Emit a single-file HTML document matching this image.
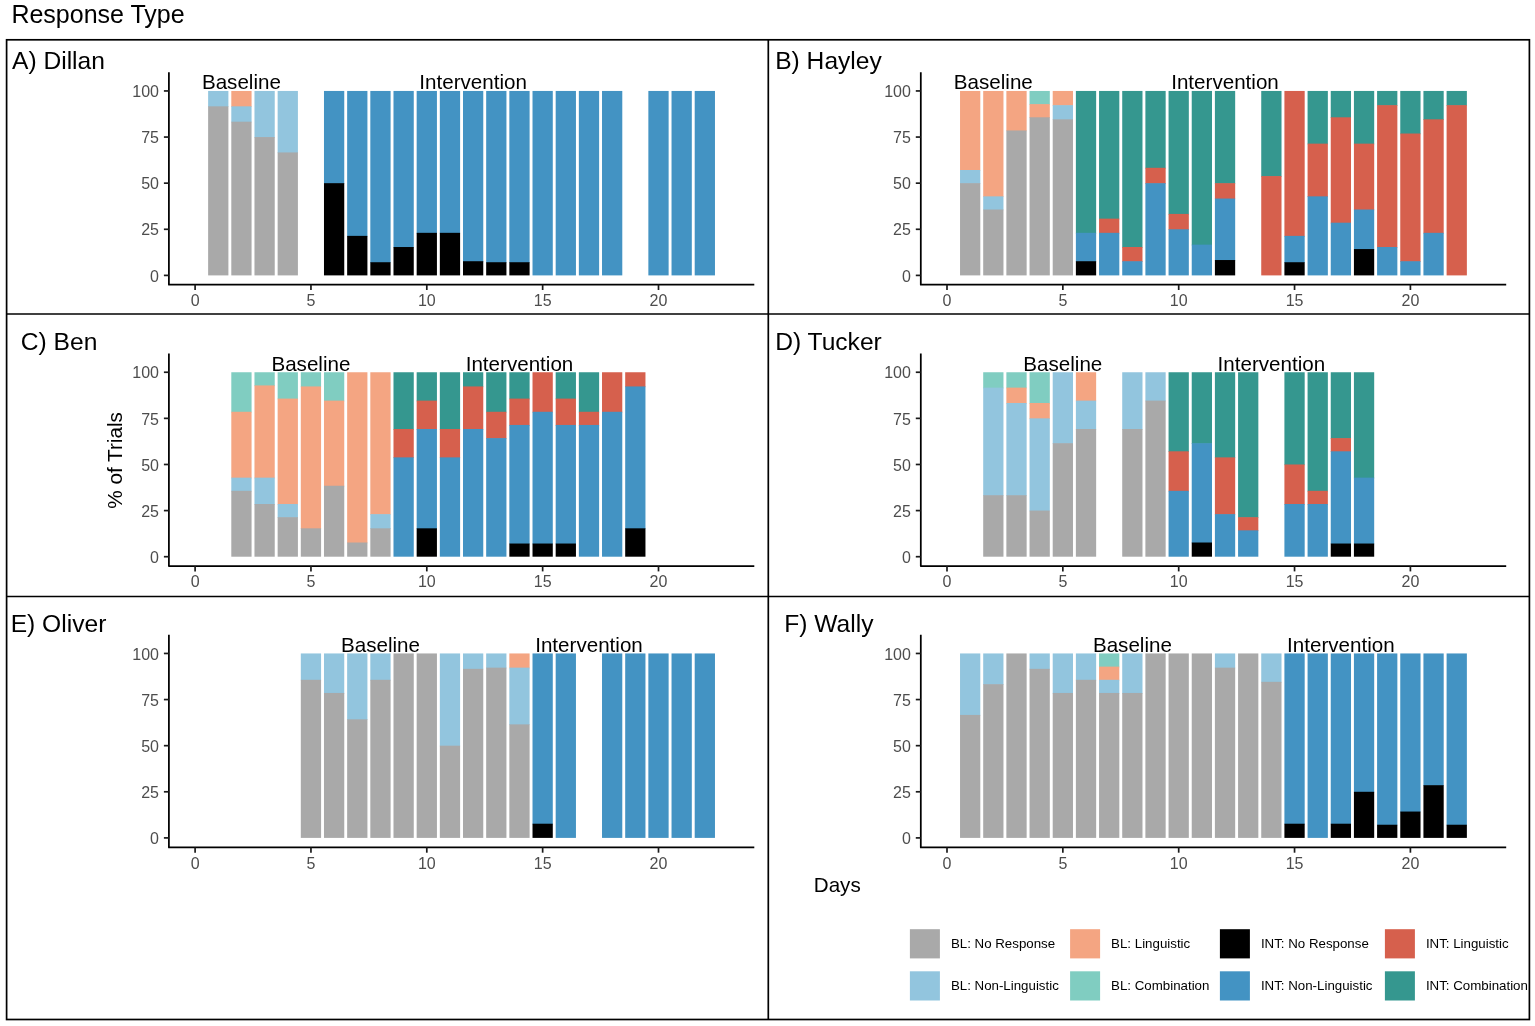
<!DOCTYPE html>
<html lang="en">
<head>
<meta charset="utf-8">
<title>Response Type</title>
<style>
html,body{margin:0;padding:0;background:#fff;}
body{width:1535px;height:1026px;overflow:hidden;font-family:"Liberation Sans",Arial,Helvetica,sans-serif;}
svg{display:block;}
</style>
</head>
<body>
<svg width="1535" height="1026" viewBox="0 0 1535 1026" font-family="'Liberation Sans', Arial, Helvetica, sans-serif">
<rect x="0" y="0" width="1535" height="1026" fill="#ffffff"/>
<text x="11.4" y="23.3" font-size="25" fill="#000">Response Type</text>
<g fill="none" stroke="#000" stroke-width="1.7">
<rect x="6.6" y="39.8" width="1522.8" height="979.7"/>
<line x1="768.3" y1="39.8" x2="768.3" y2="1019.5"/>
<line x1="6.6" y1="314.0" x2="1529.4" y2="314.0"/>
<line x1="6.6" y1="596.5" x2="1529.4" y2="596.5"/>
</g>
<g>
<text x="12.0" y="69.2" font-size="24.6" fill="#000">A) Dillan</text>
<g shape-rendering="auto">
<rect x="208.13" y="90.95" width="20.27" height="16.07" fill="#92C5DE"/>
<rect x="208.13" y="106.32" width="20.27" height="169.08" fill="#A9A9A9"/>
<rect x="231.30" y="90.95" width="20.27" height="16.07" fill="#F4A582"/>
<rect x="231.30" y="106.32" width="20.27" height="16.07" fill="#92C5DE"/>
<rect x="231.30" y="121.69" width="20.27" height="153.71" fill="#A9A9A9"/>
<rect x="254.47" y="90.95" width="20.27" height="46.81" fill="#92C5DE"/>
<rect x="254.47" y="137.06" width="20.27" height="138.34" fill="#A9A9A9"/>
<rect x="277.64" y="90.95" width="20.27" height="62.18" fill="#92C5DE"/>
<rect x="277.64" y="152.43" width="20.27" height="122.97" fill="#A9A9A9"/>
<rect x="323.98" y="90.95" width="20.27" height="92.92" fill="#4393C3"/>
<rect x="323.98" y="183.17" width="20.27" height="92.22" fill="#000000"/>
<rect x="347.15" y="90.95" width="20.27" height="145.62" fill="#4393C3"/>
<rect x="347.15" y="235.87" width="20.27" height="39.53" fill="#000000"/>
<rect x="370.32" y="90.95" width="20.27" height="171.97" fill="#4393C3"/>
<rect x="370.32" y="262.22" width="20.27" height="13.18" fill="#000000"/>
<rect x="393.49" y="90.95" width="20.27" height="156.77" fill="#4393C3"/>
<rect x="393.49" y="247.02" width="20.27" height="28.38" fill="#000000"/>
<rect x="416.66" y="90.95" width="20.27" height="142.58" fill="#4393C3"/>
<rect x="416.66" y="232.83" width="20.27" height="42.57" fill="#000000"/>
<rect x="439.83" y="90.95" width="20.27" height="142.58" fill="#4393C3"/>
<rect x="439.83" y="232.83" width="20.27" height="42.57" fill="#000000"/>
<rect x="463.00" y="90.95" width="20.27" height="170.96" fill="#4393C3"/>
<rect x="463.00" y="261.21" width="20.27" height="14.19" fill="#000000"/>
<rect x="486.17" y="90.95" width="20.27" height="171.97" fill="#4393C3"/>
<rect x="486.17" y="262.22" width="20.27" height="13.18" fill="#000000"/>
<rect x="509.34" y="90.95" width="20.27" height="171.97" fill="#4393C3"/>
<rect x="509.34" y="262.22" width="20.27" height="13.18" fill="#000000"/>
<rect x="532.51" y="90.95" width="20.27" height="184.45" fill="#4393C3"/>
<rect x="555.68" y="90.95" width="20.27" height="184.45" fill="#4393C3"/>
<rect x="578.85" y="90.95" width="20.27" height="184.45" fill="#4393C3"/>
<rect x="602.02" y="90.95" width="20.27" height="184.45" fill="#4393C3"/>
<rect x="648.36" y="90.95" width="20.27" height="184.45" fill="#4393C3"/>
<rect x="671.53" y="90.95" width="20.27" height="184.45" fill="#4393C3"/>
<rect x="694.70" y="90.95" width="20.27" height="184.45" fill="#4393C3"/>
</g>
<path d="M168.9 72.2 V284.7 H754.3" fill="none" stroke="#000" stroke-width="1.75" stroke-linejoin="round"/>
<g stroke="#1a1a1a" stroke-width="1.7">
<line x1="163.9" y1="275.40" x2="168.9" y2="275.40"/>
<line x1="163.9" y1="229.29" x2="168.9" y2="229.29"/>
<line x1="163.9" y1="183.17" x2="168.9" y2="183.17"/>
<line x1="163.9" y1="137.06" x2="168.9" y2="137.06"/>
<line x1="163.9" y1="90.95" x2="168.9" y2="90.95"/>
<line x1="195.10" y1="284.7" x2="195.10" y2="290.0"/>
<line x1="310.95" y1="284.7" x2="310.95" y2="290.0"/>
<line x1="426.80" y1="284.7" x2="426.80" y2="290.0"/>
<line x1="542.65" y1="284.7" x2="542.65" y2="290.0"/>
<line x1="658.50" y1="284.7" x2="658.50" y2="290.0"/>
</g>
<g font-size="16" fill="#4d4d4d">
<text x="159.0" y="281.60" text-anchor="end">0</text>
<text x="159.0" y="235.49" text-anchor="end">25</text>
<text x="159.0" y="189.37" text-anchor="end">50</text>
<text x="159.0" y="143.26" text-anchor="end">75</text>
<text x="159.0" y="97.15" text-anchor="end">100</text>
<text x="195.10" y="305.9" text-anchor="middle">0</text>
<text x="310.95" y="305.9" text-anchor="middle">5</text>
<text x="426.80" y="305.9" text-anchor="middle">10</text>
<text x="542.65" y="305.9" text-anchor="middle">15</text>
<text x="658.50" y="305.9" text-anchor="middle">20</text>
</g>
<text x="241.4" y="89.3" font-size="20.6" text-anchor="middle" fill="#000">Baseline</text>
<text x="473.1" y="89.3" font-size="20.6" text-anchor="middle" fill="#000">Intervention</text>
</g>
<g>
<text x="775.2" y="69.2" font-size="24.6" fill="#000">B) Hayley</text>
<g shape-rendering="auto">
<rect x="960.03" y="90.95" width="20.27" height="79.75" fill="#F4A582"/>
<rect x="960.03" y="170.00" width="20.27" height="13.88" fill="#92C5DE"/>
<rect x="960.03" y="183.17" width="20.27" height="92.22" fill="#A9A9A9"/>
<rect x="983.20" y="90.95" width="20.27" height="106.10" fill="#F4A582"/>
<rect x="983.20" y="196.35" width="20.27" height="13.88" fill="#92C5DE"/>
<rect x="983.20" y="209.52" width="20.27" height="65.88" fill="#A9A9A9"/>
<rect x="1006.37" y="90.95" width="20.27" height="40.22" fill="#F4A582"/>
<rect x="1006.37" y="130.47" width="20.27" height="144.93" fill="#A9A9A9"/>
<rect x="1029.54" y="90.95" width="20.27" height="13.87" fill="#80CDC1"/>
<rect x="1029.54" y="104.12" width="20.27" height="13.88" fill="#F4A582"/>
<rect x="1029.54" y="117.30" width="20.27" height="158.10" fill="#A9A9A9"/>
<rect x="1052.71" y="90.95" width="20.27" height="14.89" fill="#F4A582"/>
<rect x="1052.71" y="105.14" width="20.27" height="14.89" fill="#92C5DE"/>
<rect x="1052.71" y="119.33" width="20.27" height="156.07" fill="#A9A9A9"/>
<rect x="1075.88" y="90.95" width="20.27" height="142.58" fill="#35978F"/>
<rect x="1075.88" y="232.83" width="20.27" height="29.08" fill="#4393C3"/>
<rect x="1075.88" y="261.21" width="20.27" height="14.19" fill="#000000"/>
<rect x="1099.05" y="90.95" width="20.27" height="128.40" fill="#35978F"/>
<rect x="1099.05" y="218.65" width="20.27" height="14.89" fill="#D6604D"/>
<rect x="1099.05" y="232.83" width="20.27" height="42.57" fill="#4393C3"/>
<rect x="1122.22" y="90.95" width="20.27" height="156.77" fill="#35978F"/>
<rect x="1122.22" y="247.02" width="20.27" height="14.89" fill="#D6604D"/>
<rect x="1122.22" y="261.21" width="20.27" height="14.19" fill="#4393C3"/>
<rect x="1145.39" y="90.95" width="20.27" height="77.55" fill="#35978F"/>
<rect x="1145.39" y="167.80" width="20.27" height="16.07" fill="#D6604D"/>
<rect x="1145.39" y="183.17" width="20.27" height="92.22" fill="#4393C3"/>
<rect x="1168.56" y="90.95" width="20.27" height="123.67" fill="#35978F"/>
<rect x="1168.56" y="213.92" width="20.27" height="16.07" fill="#D6604D"/>
<rect x="1168.56" y="229.29" width="20.27" height="46.11" fill="#4393C3"/>
<rect x="1191.73" y="90.95" width="20.27" height="154.41" fill="#35978F"/>
<rect x="1191.73" y="244.66" width="20.27" height="30.74" fill="#4393C3"/>
<rect x="1214.90" y="90.95" width="20.27" height="92.92" fill="#35978F"/>
<rect x="1214.90" y="183.17" width="20.27" height="16.07" fill="#D6604D"/>
<rect x="1214.90" y="198.55" width="20.27" height="62.18" fill="#4393C3"/>
<rect x="1214.90" y="260.03" width="20.27" height="15.37" fill="#000000"/>
<rect x="1261.24" y="90.95" width="20.27" height="85.83" fill="#35978F"/>
<rect x="1261.24" y="176.08" width="20.27" height="99.32" fill="#D6604D"/>
<rect x="1284.41" y="90.95" width="20.27" height="145.62" fill="#D6604D"/>
<rect x="1284.41" y="235.87" width="20.27" height="27.05" fill="#4393C3"/>
<rect x="1284.41" y="262.22" width="20.27" height="13.18" fill="#000000"/>
<rect x="1307.58" y="90.95" width="20.27" height="53.40" fill="#35978F"/>
<rect x="1307.58" y="143.65" width="20.27" height="53.40" fill="#D6604D"/>
<rect x="1307.58" y="196.35" width="20.27" height="79.05" fill="#4393C3"/>
<rect x="1330.75" y="90.95" width="20.27" height="27.05" fill="#35978F"/>
<rect x="1330.75" y="117.30" width="20.27" height="106.10" fill="#D6604D"/>
<rect x="1330.75" y="222.70" width="20.27" height="52.70" fill="#4393C3"/>
<rect x="1353.92" y="90.95" width="20.27" height="53.40" fill="#35978F"/>
<rect x="1353.92" y="143.65" width="20.27" height="66.57" fill="#D6604D"/>
<rect x="1353.92" y="209.52" width="20.27" height="40.22" fill="#4393C3"/>
<rect x="1353.92" y="249.05" width="20.27" height="26.35" fill="#000000"/>
<rect x="1377.09" y="90.95" width="20.27" height="14.89" fill="#35978F"/>
<rect x="1377.09" y="105.14" width="20.27" height="142.58" fill="#D6604D"/>
<rect x="1377.09" y="247.02" width="20.27" height="28.38" fill="#4393C3"/>
<rect x="1400.26" y="90.95" width="20.27" height="43.27" fill="#35978F"/>
<rect x="1400.26" y="133.52" width="20.27" height="128.40" fill="#D6604D"/>
<rect x="1400.26" y="261.21" width="20.27" height="14.19" fill="#4393C3"/>
<rect x="1423.43" y="90.95" width="20.27" height="29.08" fill="#35978F"/>
<rect x="1423.43" y="119.33" width="20.27" height="114.21" fill="#D6604D"/>
<rect x="1423.43" y="232.83" width="20.27" height="42.57" fill="#4393C3"/>
<rect x="1446.60" y="90.95" width="20.27" height="14.89" fill="#35978F"/>
<rect x="1446.60" y="105.14" width="20.27" height="170.26" fill="#D6604D"/>
</g>
<path d="M920.8 72.2 V284.7 H1506.2" fill="none" stroke="#000" stroke-width="1.75" stroke-linejoin="round"/>
<g stroke="#1a1a1a" stroke-width="1.7">
<line x1="915.8" y1="275.40" x2="920.8" y2="275.40"/>
<line x1="915.8" y1="229.29" x2="920.8" y2="229.29"/>
<line x1="915.8" y1="183.17" x2="920.8" y2="183.17"/>
<line x1="915.8" y1="137.06" x2="920.8" y2="137.06"/>
<line x1="915.8" y1="90.95" x2="920.8" y2="90.95"/>
<line x1="947.00" y1="284.7" x2="947.00" y2="290.0"/>
<line x1="1062.85" y1="284.7" x2="1062.85" y2="290.0"/>
<line x1="1178.70" y1="284.7" x2="1178.70" y2="290.0"/>
<line x1="1294.55" y1="284.7" x2="1294.55" y2="290.0"/>
<line x1="1410.40" y1="284.7" x2="1410.40" y2="290.0"/>
</g>
<g font-size="16" fill="#4d4d4d">
<text x="910.9" y="281.60" text-anchor="end">0</text>
<text x="910.9" y="235.49" text-anchor="end">25</text>
<text x="910.9" y="189.37" text-anchor="end">50</text>
<text x="910.9" y="143.26" text-anchor="end">75</text>
<text x="910.9" y="97.15" text-anchor="end">100</text>
<text x="947.00" y="305.9" text-anchor="middle">0</text>
<text x="1062.85" y="305.9" text-anchor="middle">5</text>
<text x="1178.70" y="305.9" text-anchor="middle">10</text>
<text x="1294.55" y="305.9" text-anchor="middle">15</text>
<text x="1410.40" y="305.9" text-anchor="middle">20</text>
</g>
<text x="993.3" y="89.3" font-size="20.6" text-anchor="middle" fill="#000">Baseline</text>
<text x="1225.0" y="89.3" font-size="20.6" text-anchor="middle" fill="#000">Intervention</text>
</g>
<g>
<text x="20.8" y="350.2" font-size="24.6" fill="#000">C) Ben</text>
<g shape-rendering="auto">
<rect x="231.30" y="372.25" width="20.27" height="40.22" fill="#80CDC1"/>
<rect x="231.30" y="411.78" width="20.27" height="66.57" fill="#F4A582"/>
<rect x="231.30" y="477.65" width="20.27" height="13.88" fill="#92C5DE"/>
<rect x="231.30" y="490.83" width="20.27" height="65.88" fill="#A9A9A9"/>
<rect x="254.47" y="372.25" width="20.27" height="13.88" fill="#80CDC1"/>
<rect x="254.47" y="385.43" width="20.27" height="92.92" fill="#F4A582"/>
<rect x="254.47" y="477.65" width="20.27" height="27.05" fill="#92C5DE"/>
<rect x="254.47" y="504.00" width="20.27" height="52.70" fill="#A9A9A9"/>
<rect x="277.64" y="372.25" width="20.27" height="27.05" fill="#80CDC1"/>
<rect x="277.64" y="398.60" width="20.27" height="106.10" fill="#F4A582"/>
<rect x="277.64" y="504.00" width="20.27" height="13.88" fill="#92C5DE"/>
<rect x="277.64" y="517.18" width="20.27" height="39.52" fill="#A9A9A9"/>
<rect x="300.81" y="372.25" width="20.27" height="14.89" fill="#80CDC1"/>
<rect x="300.81" y="386.44" width="20.27" height="142.58" fill="#F4A582"/>
<rect x="300.81" y="528.32" width="20.27" height="28.38" fill="#A9A9A9"/>
<rect x="323.98" y="372.25" width="20.27" height="29.08" fill="#80CDC1"/>
<rect x="323.98" y="400.63" width="20.27" height="85.83" fill="#F4A582"/>
<rect x="323.98" y="485.76" width="20.27" height="70.94" fill="#A9A9A9"/>
<rect x="347.15" y="372.25" width="20.27" height="170.96" fill="#F4A582"/>
<rect x="347.15" y="542.51" width="20.27" height="14.19" fill="#A9A9A9"/>
<rect x="370.32" y="372.25" width="20.27" height="142.58" fill="#F4A582"/>
<rect x="370.32" y="514.13" width="20.27" height="14.89" fill="#92C5DE"/>
<rect x="370.32" y="528.32" width="20.27" height="28.38" fill="#A9A9A9"/>
<rect x="393.49" y="372.25" width="20.27" height="57.45" fill="#35978F"/>
<rect x="393.49" y="429.00" width="20.27" height="29.08" fill="#D6604D"/>
<rect x="393.49" y="457.38" width="20.27" height="99.32" fill="#4393C3"/>
<rect x="416.66" y="372.25" width="20.27" height="29.08" fill="#35978F"/>
<rect x="416.66" y="400.63" width="20.27" height="29.08" fill="#D6604D"/>
<rect x="416.66" y="429.00" width="20.27" height="100.02" fill="#4393C3"/>
<rect x="416.66" y="528.32" width="20.27" height="28.38" fill="#000000"/>
<rect x="439.83" y="372.25" width="20.27" height="57.45" fill="#35978F"/>
<rect x="439.83" y="429.00" width="20.27" height="29.08" fill="#D6604D"/>
<rect x="439.83" y="457.38" width="20.27" height="99.32" fill="#4393C3"/>
<rect x="463.00" y="372.25" width="20.27" height="14.89" fill="#35978F"/>
<rect x="463.00" y="386.44" width="20.27" height="43.27" fill="#D6604D"/>
<rect x="463.00" y="429.00" width="20.27" height="127.70" fill="#4393C3"/>
<rect x="486.17" y="372.25" width="20.27" height="40.22" fill="#35978F"/>
<rect x="486.17" y="411.78" width="20.27" height="27.05" fill="#D6604D"/>
<rect x="486.17" y="438.12" width="20.27" height="118.58" fill="#4393C3"/>
<rect x="509.34" y="372.25" width="20.27" height="27.05" fill="#35978F"/>
<rect x="509.34" y="398.60" width="20.27" height="27.05" fill="#D6604D"/>
<rect x="509.34" y="424.95" width="20.27" height="119.28" fill="#4393C3"/>
<rect x="509.34" y="543.53" width="20.27" height="13.17" fill="#000000"/>
<rect x="532.51" y="372.25" width="20.27" height="40.22" fill="#D6604D"/>
<rect x="532.51" y="411.78" width="20.27" height="132.45" fill="#4393C3"/>
<rect x="532.51" y="543.53" width="20.27" height="13.17" fill="#000000"/>
<rect x="555.68" y="372.25" width="20.27" height="27.05" fill="#35978F"/>
<rect x="555.68" y="398.60" width="20.27" height="27.05" fill="#D6604D"/>
<rect x="555.68" y="424.95" width="20.27" height="119.28" fill="#4393C3"/>
<rect x="555.68" y="543.53" width="20.27" height="13.17" fill="#000000"/>
<rect x="578.85" y="372.25" width="20.27" height="40.22" fill="#35978F"/>
<rect x="578.85" y="411.78" width="20.27" height="13.88" fill="#D6604D"/>
<rect x="578.85" y="424.95" width="20.27" height="131.75" fill="#4393C3"/>
<rect x="602.02" y="372.25" width="20.27" height="40.22" fill="#D6604D"/>
<rect x="602.02" y="411.78" width="20.27" height="144.93" fill="#4393C3"/>
<rect x="625.19" y="372.25" width="20.27" height="14.89" fill="#D6604D"/>
<rect x="625.19" y="386.44" width="20.27" height="142.58" fill="#4393C3"/>
<rect x="625.19" y="528.32" width="20.27" height="28.38" fill="#000000"/>
</g>
<path d="M168.9 353.5 V566.1 H754.3" fill="none" stroke="#000" stroke-width="1.75" stroke-linejoin="round"/>
<g stroke="#1a1a1a" stroke-width="1.7">
<line x1="163.9" y1="556.70" x2="168.9" y2="556.70"/>
<line x1="163.9" y1="510.59" x2="168.9" y2="510.59"/>
<line x1="163.9" y1="464.48" x2="168.9" y2="464.48"/>
<line x1="163.9" y1="418.36" x2="168.9" y2="418.36"/>
<line x1="163.9" y1="372.25" x2="168.9" y2="372.25"/>
<line x1="195.10" y1="566.1" x2="195.10" y2="571.4"/>
<line x1="310.95" y1="566.1" x2="310.95" y2="571.4"/>
<line x1="426.80" y1="566.1" x2="426.80" y2="571.4"/>
<line x1="542.65" y1="566.1" x2="542.65" y2="571.4"/>
<line x1="658.50" y1="566.1" x2="658.50" y2="571.4"/>
</g>
<g font-size="16" fill="#4d4d4d">
<text x="159.0" y="562.90" text-anchor="end">0</text>
<text x="159.0" y="516.79" text-anchor="end">25</text>
<text x="159.0" y="470.68" text-anchor="end">50</text>
<text x="159.0" y="424.56" text-anchor="end">75</text>
<text x="159.0" y="378.45" text-anchor="end">100</text>
<text x="195.10" y="587.4" text-anchor="middle">0</text>
<text x="310.95" y="587.4" text-anchor="middle">5</text>
<text x="426.80" y="587.4" text-anchor="middle">10</text>
<text x="542.65" y="587.4" text-anchor="middle">15</text>
<text x="658.50" y="587.4" text-anchor="middle">20</text>
</g>
<text x="310.9" y="370.6" font-size="20.6" text-anchor="middle" fill="#000">Baseline</text>
<text x="519.5" y="370.6" font-size="20.6" text-anchor="middle" fill="#000">Intervention</text>
</g>
<g>
<text x="775.2" y="350.2" font-size="24.6" fill="#000">D) Tucker</text>
<g shape-rendering="auto">
<rect x="983.20" y="372.25" width="20.27" height="16.07" fill="#80CDC1"/>
<rect x="983.20" y="387.62" width="20.27" height="108.30" fill="#92C5DE"/>
<rect x="983.20" y="495.22" width="20.27" height="61.48" fill="#A9A9A9"/>
<rect x="1006.37" y="372.25" width="20.27" height="16.07" fill="#80CDC1"/>
<rect x="1006.37" y="387.62" width="20.27" height="16.07" fill="#F4A582"/>
<rect x="1006.37" y="402.99" width="20.27" height="92.92" fill="#92C5DE"/>
<rect x="1006.37" y="495.22" width="20.27" height="61.48" fill="#A9A9A9"/>
<rect x="1029.54" y="372.25" width="20.27" height="31.44" fill="#80CDC1"/>
<rect x="1029.54" y="402.99" width="20.27" height="16.07" fill="#F4A582"/>
<rect x="1029.54" y="418.36" width="20.27" height="92.92" fill="#92C5DE"/>
<rect x="1029.54" y="510.59" width="20.27" height="46.11" fill="#A9A9A9"/>
<rect x="1052.71" y="372.25" width="20.27" height="71.64" fill="#92C5DE"/>
<rect x="1052.71" y="443.19" width="20.27" height="113.51" fill="#A9A9A9"/>
<rect x="1075.88" y="372.25" width="20.27" height="29.08" fill="#F4A582"/>
<rect x="1075.88" y="400.63" width="20.27" height="29.08" fill="#92C5DE"/>
<rect x="1075.88" y="429.00" width="20.27" height="127.70" fill="#A9A9A9"/>
<rect x="1122.22" y="372.25" width="20.27" height="57.45" fill="#92C5DE"/>
<rect x="1122.22" y="429.00" width="20.27" height="127.70" fill="#A9A9A9"/>
<rect x="1145.39" y="372.25" width="20.27" height="29.08" fill="#92C5DE"/>
<rect x="1145.39" y="400.63" width="20.27" height="156.07" fill="#A9A9A9"/>
<rect x="1168.56" y="372.25" width="20.27" height="79.75" fill="#35978F"/>
<rect x="1168.56" y="451.30" width="20.27" height="40.22" fill="#D6604D"/>
<rect x="1168.56" y="490.83" width="20.27" height="65.88" fill="#4393C3"/>
<rect x="1191.73" y="372.25" width="20.27" height="71.64" fill="#35978F"/>
<rect x="1191.73" y="443.19" width="20.27" height="100.02" fill="#4393C3"/>
<rect x="1191.73" y="542.51" width="20.27" height="14.19" fill="#000000"/>
<rect x="1214.90" y="372.25" width="20.27" height="85.83" fill="#35978F"/>
<rect x="1214.90" y="457.38" width="20.27" height="57.45" fill="#D6604D"/>
<rect x="1214.90" y="514.13" width="20.27" height="42.57" fill="#4393C3"/>
<rect x="1238.07" y="372.25" width="20.27" height="145.63" fill="#35978F"/>
<rect x="1238.07" y="517.18" width="20.27" height="13.88" fill="#D6604D"/>
<rect x="1238.07" y="530.35" width="20.27" height="26.35" fill="#4393C3"/>
<rect x="1284.41" y="372.25" width="20.27" height="92.92" fill="#35978F"/>
<rect x="1284.41" y="464.48" width="20.27" height="40.23" fill="#D6604D"/>
<rect x="1284.41" y="504.00" width="20.27" height="52.70" fill="#4393C3"/>
<rect x="1307.58" y="372.25" width="20.27" height="119.27" fill="#35978F"/>
<rect x="1307.58" y="490.83" width="20.27" height="13.88" fill="#D6604D"/>
<rect x="1307.58" y="504.00" width="20.27" height="52.70" fill="#4393C3"/>
<rect x="1330.75" y="372.25" width="20.27" height="66.57" fill="#35978F"/>
<rect x="1330.75" y="438.12" width="20.27" height="13.88" fill="#D6604D"/>
<rect x="1330.75" y="451.30" width="20.27" height="92.93" fill="#4393C3"/>
<rect x="1330.75" y="543.53" width="20.27" height="13.17" fill="#000000"/>
<rect x="1353.92" y="372.25" width="20.27" height="106.10" fill="#35978F"/>
<rect x="1353.92" y="477.65" width="20.27" height="66.58" fill="#4393C3"/>
<rect x="1353.92" y="543.53" width="20.27" height="13.17" fill="#000000"/>
</g>
<path d="M920.8 353.5 V566.1 H1506.2" fill="none" stroke="#000" stroke-width="1.75" stroke-linejoin="round"/>
<g stroke="#1a1a1a" stroke-width="1.7">
<line x1="915.8" y1="556.70" x2="920.8" y2="556.70"/>
<line x1="915.8" y1="510.59" x2="920.8" y2="510.59"/>
<line x1="915.8" y1="464.48" x2="920.8" y2="464.48"/>
<line x1="915.8" y1="418.36" x2="920.8" y2="418.36"/>
<line x1="915.8" y1="372.25" x2="920.8" y2="372.25"/>
<line x1="947.00" y1="566.1" x2="947.00" y2="571.4"/>
<line x1="1062.85" y1="566.1" x2="1062.85" y2="571.4"/>
<line x1="1178.70" y1="566.1" x2="1178.70" y2="571.4"/>
<line x1="1294.55" y1="566.1" x2="1294.55" y2="571.4"/>
<line x1="1410.40" y1="566.1" x2="1410.40" y2="571.4"/>
</g>
<g font-size="16" fill="#4d4d4d">
<text x="910.9" y="562.90" text-anchor="end">0</text>
<text x="910.9" y="516.79" text-anchor="end">25</text>
<text x="910.9" y="470.68" text-anchor="end">50</text>
<text x="910.9" y="424.56" text-anchor="end">75</text>
<text x="910.9" y="378.45" text-anchor="end">100</text>
<text x="947.00" y="587.4" text-anchor="middle">0</text>
<text x="1062.85" y="587.4" text-anchor="middle">5</text>
<text x="1178.70" y="587.4" text-anchor="middle">10</text>
<text x="1294.55" y="587.4" text-anchor="middle">15</text>
<text x="1410.40" y="587.4" text-anchor="middle">20</text>
</g>
<text x="1062.8" y="370.6" font-size="20.6" text-anchor="middle" fill="#000">Baseline</text>
<text x="1271.4" y="370.6" font-size="20.6" text-anchor="middle" fill="#000">Intervention</text>
</g>
<g>
<text x="10.7" y="631.8" font-size="24.6" fill="#000">E) Oliver</text>
<g shape-rendering="auto">
<rect x="300.81" y="653.45" width="20.27" height="27.05" fill="#92C5DE"/>
<rect x="300.81" y="679.80" width="20.27" height="158.10" fill="#A9A9A9"/>
<rect x="323.98" y="653.45" width="20.27" height="40.22" fill="#92C5DE"/>
<rect x="323.98" y="692.97" width="20.27" height="144.93" fill="#A9A9A9"/>
<rect x="347.15" y="653.45" width="20.27" height="66.57" fill="#92C5DE"/>
<rect x="347.15" y="719.32" width="20.27" height="118.58" fill="#A9A9A9"/>
<rect x="370.32" y="653.45" width="20.27" height="27.05" fill="#92C5DE"/>
<rect x="370.32" y="679.80" width="20.27" height="158.10" fill="#A9A9A9"/>
<rect x="393.49" y="653.45" width="20.27" height="184.45" fill="#A9A9A9"/>
<rect x="416.66" y="653.45" width="20.27" height="184.45" fill="#A9A9A9"/>
<rect x="439.83" y="653.45" width="20.27" height="92.92" fill="#92C5DE"/>
<rect x="439.83" y="745.67" width="20.27" height="92.23" fill="#A9A9A9"/>
<rect x="463.00" y="653.45" width="20.27" height="16.07" fill="#92C5DE"/>
<rect x="463.00" y="668.82" width="20.27" height="169.08" fill="#A9A9A9"/>
<rect x="486.17" y="653.45" width="20.27" height="14.89" fill="#92C5DE"/>
<rect x="486.17" y="667.64" width="20.27" height="170.26" fill="#A9A9A9"/>
<rect x="509.34" y="653.45" width="20.27" height="14.89" fill="#F4A582"/>
<rect x="509.34" y="667.64" width="20.27" height="57.45" fill="#92C5DE"/>
<rect x="509.34" y="724.39" width="20.27" height="113.51" fill="#A9A9A9"/>
<rect x="532.51" y="653.45" width="20.27" height="170.96" fill="#4393C3"/>
<rect x="532.51" y="823.71" width="20.27" height="14.19" fill="#000000"/>
<rect x="555.68" y="653.45" width="20.27" height="184.45" fill="#4393C3"/>
<rect x="602.02" y="653.45" width="20.27" height="184.45" fill="#4393C3"/>
<rect x="625.19" y="653.45" width="20.27" height="184.45" fill="#4393C3"/>
<rect x="648.36" y="653.45" width="20.27" height="184.45" fill="#4393C3"/>
<rect x="671.53" y="653.45" width="20.27" height="184.45" fill="#4393C3"/>
<rect x="694.70" y="653.45" width="20.27" height="184.45" fill="#4393C3"/>
</g>
<path d="M168.9 634.7 V847.4 H754.3" fill="none" stroke="#000" stroke-width="1.75" stroke-linejoin="round"/>
<g stroke="#1a1a1a" stroke-width="1.7">
<line x1="163.9" y1="837.90" x2="168.9" y2="837.90"/>
<line x1="163.9" y1="791.79" x2="168.9" y2="791.79"/>
<line x1="163.9" y1="745.67" x2="168.9" y2="745.67"/>
<line x1="163.9" y1="699.56" x2="168.9" y2="699.56"/>
<line x1="163.9" y1="653.45" x2="168.9" y2="653.45"/>
<line x1="195.10" y1="847.4" x2="195.10" y2="852.7"/>
<line x1="310.95" y1="847.4" x2="310.95" y2="852.7"/>
<line x1="426.80" y1="847.4" x2="426.80" y2="852.7"/>
<line x1="542.65" y1="847.4" x2="542.65" y2="852.7"/>
<line x1="658.50" y1="847.4" x2="658.50" y2="852.7"/>
</g>
<g font-size="16" fill="#4d4d4d">
<text x="159.0" y="844.10" text-anchor="end">0</text>
<text x="159.0" y="797.99" text-anchor="end">25</text>
<text x="159.0" y="751.88" text-anchor="end">50</text>
<text x="159.0" y="705.76" text-anchor="end">75</text>
<text x="159.0" y="659.65" text-anchor="end">100</text>
<text x="195.10" y="868.6" text-anchor="middle">0</text>
<text x="310.95" y="868.6" text-anchor="middle">5</text>
<text x="426.80" y="868.6" text-anchor="middle">10</text>
<text x="542.65" y="868.6" text-anchor="middle">15</text>
<text x="658.50" y="868.6" text-anchor="middle">20</text>
</g>
<text x="380.5" y="651.8" font-size="20.6" text-anchor="middle" fill="#000">Baseline</text>
<text x="589.0" y="651.8" font-size="20.6" text-anchor="middle" fill="#000">Intervention</text>
</g>
<g>
<text x="784.2" y="631.8" font-size="24.6" fill="#000">F) Wally</text>
<g shape-rendering="auto">
<rect x="960.03" y="653.45" width="20.27" height="62.18" fill="#92C5DE"/>
<rect x="960.03" y="714.93" width="20.27" height="122.97" fill="#A9A9A9"/>
<rect x="983.20" y="653.45" width="20.27" height="31.44" fill="#92C5DE"/>
<rect x="983.20" y="684.19" width="20.27" height="153.71" fill="#A9A9A9"/>
<rect x="1006.37" y="653.45" width="20.27" height="184.45" fill="#A9A9A9"/>
<rect x="1029.54" y="653.45" width="20.27" height="16.07" fill="#92C5DE"/>
<rect x="1029.54" y="668.82" width="20.27" height="169.08" fill="#A9A9A9"/>
<rect x="1052.71" y="653.45" width="20.27" height="40.22" fill="#92C5DE"/>
<rect x="1052.71" y="692.97" width="20.27" height="144.93" fill="#A9A9A9"/>
<rect x="1075.88" y="653.45" width="20.27" height="27.05" fill="#92C5DE"/>
<rect x="1075.88" y="679.80" width="20.27" height="158.10" fill="#A9A9A9"/>
<rect x="1099.05" y="653.45" width="20.27" height="13.88" fill="#80CDC1"/>
<rect x="1099.05" y="666.62" width="20.27" height="13.88" fill="#F4A582"/>
<rect x="1099.05" y="679.80" width="20.27" height="13.88" fill="#92C5DE"/>
<rect x="1099.05" y="692.97" width="20.27" height="144.93" fill="#A9A9A9"/>
<rect x="1122.22" y="653.45" width="20.27" height="40.22" fill="#92C5DE"/>
<rect x="1122.22" y="692.97" width="20.27" height="144.93" fill="#A9A9A9"/>
<rect x="1145.39" y="653.45" width="20.27" height="184.45" fill="#A9A9A9"/>
<rect x="1168.56" y="653.45" width="20.27" height="184.45" fill="#A9A9A9"/>
<rect x="1191.73" y="653.45" width="20.27" height="184.45" fill="#A9A9A9"/>
<rect x="1214.90" y="653.45" width="20.27" height="14.89" fill="#92C5DE"/>
<rect x="1214.90" y="667.64" width="20.27" height="170.26" fill="#A9A9A9"/>
<rect x="1238.07" y="653.45" width="20.27" height="184.45" fill="#A9A9A9"/>
<rect x="1261.24" y="653.45" width="20.27" height="29.08" fill="#92C5DE"/>
<rect x="1261.24" y="681.83" width="20.27" height="156.07" fill="#A9A9A9"/>
<rect x="1284.41" y="653.45" width="20.27" height="170.96" fill="#4393C3"/>
<rect x="1284.41" y="823.71" width="20.27" height="14.19" fill="#000000"/>
<rect x="1307.58" y="653.45" width="20.27" height="184.45" fill="#4393C3"/>
<rect x="1330.75" y="653.45" width="20.27" height="170.96" fill="#4393C3"/>
<rect x="1330.75" y="823.71" width="20.27" height="14.19" fill="#000000"/>
<rect x="1353.92" y="653.45" width="20.27" height="139.04" fill="#4393C3"/>
<rect x="1353.92" y="791.79" width="20.27" height="46.11" fill="#000000"/>
<rect x="1377.09" y="653.45" width="20.27" height="171.98" fill="#4393C3"/>
<rect x="1377.09" y="824.73" width="20.27" height="13.17" fill="#000000"/>
<rect x="1400.26" y="653.45" width="20.27" height="158.80" fill="#4393C3"/>
<rect x="1400.26" y="811.55" width="20.27" height="26.35" fill="#000000"/>
<rect x="1423.43" y="653.45" width="20.27" height="132.45" fill="#4393C3"/>
<rect x="1423.43" y="785.20" width="20.27" height="52.70" fill="#000000"/>
<rect x="1446.60" y="653.45" width="20.27" height="171.98" fill="#4393C3"/>
<rect x="1446.60" y="824.73" width="20.27" height="13.17" fill="#000000"/>
</g>
<path d="M920.8 634.7 V847.4 H1506.2" fill="none" stroke="#000" stroke-width="1.75" stroke-linejoin="round"/>
<g stroke="#1a1a1a" stroke-width="1.7">
<line x1="915.8" y1="837.90" x2="920.8" y2="837.90"/>
<line x1="915.8" y1="791.79" x2="920.8" y2="791.79"/>
<line x1="915.8" y1="745.67" x2="920.8" y2="745.67"/>
<line x1="915.8" y1="699.56" x2="920.8" y2="699.56"/>
<line x1="915.8" y1="653.45" x2="920.8" y2="653.45"/>
<line x1="947.00" y1="847.4" x2="947.00" y2="852.7"/>
<line x1="1062.85" y1="847.4" x2="1062.85" y2="852.7"/>
<line x1="1178.70" y1="847.4" x2="1178.70" y2="852.7"/>
<line x1="1294.55" y1="847.4" x2="1294.55" y2="852.7"/>
<line x1="1410.40" y1="847.4" x2="1410.40" y2="852.7"/>
</g>
<g font-size="16" fill="#4d4d4d">
<text x="910.9" y="844.10" text-anchor="end">0</text>
<text x="910.9" y="797.99" text-anchor="end">25</text>
<text x="910.9" y="751.88" text-anchor="end">50</text>
<text x="910.9" y="705.76" text-anchor="end">75</text>
<text x="910.9" y="659.65" text-anchor="end">100</text>
<text x="947.00" y="868.6" text-anchor="middle">0</text>
<text x="1062.85" y="868.6" text-anchor="middle">5</text>
<text x="1178.70" y="868.6" text-anchor="middle">10</text>
<text x="1294.55" y="868.6" text-anchor="middle">15</text>
<text x="1410.40" y="868.6" text-anchor="middle">20</text>
</g>
<text x="1132.4" y="651.8" font-size="20.6" text-anchor="middle" fill="#000">Baseline</text>
<text x="1340.9" y="651.8" font-size="20.6" text-anchor="middle" fill="#000">Intervention</text>
</g>
<text transform="translate(122.2,460.4) rotate(-90)" font-size="20.7" text-anchor="middle" fill="#000">% of Trials</text>
<text x="813.8" y="892.2" font-size="20.6" fill="#000">Days</text>
<g font-size="13.3" fill="#000">
<rect x="909.9" y="929.2" width="30" height="29.2" fill="#A9A9A9"/>
<text x="950.9" y="948.2">BL: No Response</text>
<rect x="1070.1" y="929.2" width="30" height="29.2" fill="#F4A582"/>
<text x="1111.1" y="948.2">BL: Linguistic</text>
<rect x="1219.9" y="929.2" width="30" height="29.2" fill="#000000"/>
<text x="1260.9" y="948.2">INT: No Response</text>
<rect x="1384.9" y="929.2" width="30" height="29.2" fill="#D6604D"/>
<text x="1425.9" y="948.2">INT: Linguistic</text>
<rect x="909.9" y="971.3" width="30" height="29.2" fill="#92C5DE"/>
<text x="950.9" y="990.3">BL: Non-Linguistic</text>
<rect x="1070.1" y="971.3" width="30" height="29.2" fill="#80CDC1"/>
<text x="1111.1" y="990.3">BL: Combination</text>
<rect x="1219.9" y="971.3" width="30" height="29.2" fill="#4393C3"/>
<text x="1260.9" y="990.3">INT: Non-Linguistic</text>
<rect x="1384.9" y="971.3" width="30" height="29.2" fill="#35978F"/>
<text x="1425.9" y="990.3">INT: Combination</text>
</g>
</svg>
</body>
</html>
